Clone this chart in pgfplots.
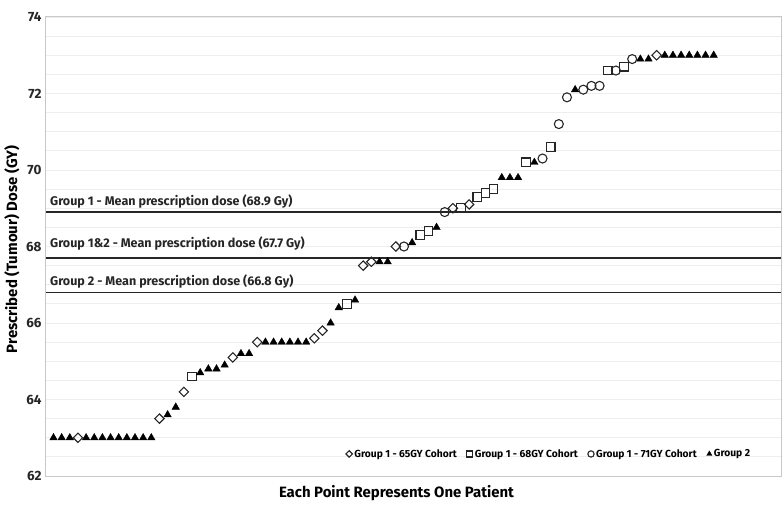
\documentclass[border=0pt]{standalone}
\usepackage{pgfplots}
\pgfplotsset{compat=1.18}
\usepackage{fontspec}
\setmainfont{Fira Sans}
\definecolor{gridc}{HTML}{EEEEEE}
\definecolor{framec}{HTML}{C8C8C8}
\begin{document}
\begin{tikzpicture}
\begin{axis}[
  name=ax,
  scale only axis,
  width=735bp, height=459bp,
  xmin=0.08, xmax=90.26,
  ymin=62, ymax=74,
  xtick=\empty,
  ytick={62,64,...,74},
  minor ytick={62.5,63,...,73.5},
  ymajorgrids, yminorgrids,
  major grid style={draw=gridc, line width=0.8bp},
  minor grid style={draw=gridc, line width=0.8bp},
  major tick length=0pt, minor tick length=0pt,
  axis line style={draw=framec, line width=1bp},
  /pgf/number format/assume math mode=true,
  yticklabel style={font=\bfseries\fontsize{13.5}{15}\selectfont, text=black!85, xshift=-1bp},
  xlabel={Each Point Represents One Patient},
  ylabel={Prescribed (Tumour) Dose (GY)},
  every axis x label/.style={at={(axis description cs:0.5,0)}, anchor=center, yshift=-17bp, xshift=-17bp, font=\bfseries\fontsize{15}{17}\selectfont},
  every axis y label/.style={at={(axis description cs:0,0.5)}, rotate=90, anchor=center, yshift=34bp, xshift=-3bp, font=\bfseries\fontsize{15}{17}\selectfont},
  legend columns=4,
  legend style={at={(rel axis cs:0.965,0.048)}, anchor=east, draw=none, fill=none,
    font=\bfseries\fontsize{10.3}{12}\selectfont,
    /tikz/every even column/.append style={column sep=8bp}},
  legend image post style={every mark/.append style={scale=0.7}},
  legend cell align=left,
]
\addplot[only marks, mark=square, mark size=3.3bp, mark options={rotate=45, draw=black!85, line width=1.1bp, fill=white}] coordinates {
(4,63) (14,63.5) (17,64.2) (23,65.1) (26,65.5) (33,65.6) (34,65.8) (39,67.5) (40,67.6) (43,68.0) (50,69.0) (52,69.1) (75,73.0)
};
\addlegendentry{Group 1 - 65GY Cohort}
\addplot[only marks, mark=square, mark size=4.3bp, mark options={draw=black!85, line width=1.1bp, fill=white}] coordinates {
(18,64.6) (37,66.5) (46,68.3) (47,68.4) (51,69.0) (53,69.3) (54,69.4) (55,69.5) (59,70.2) (62,70.6) (69,72.6) (71,72.7)
};
\addlegendentry{Group 1 - 68GY Cohort}
\addplot[only marks, mark=o, mark size=4.5bp, mark options={draw=black!85, line width=1.1bp, fill=white}] coordinates {
(44,68.0) (49,68.9) (61,70.3) (63,71.2) (64,71.9) (66,72.1) (67,72.2) (68,72.2) (70,72.6) (72,72.9)
};
\addlegendentry{Group 1 - 71GY Cohort}
\addplot[only marks, mark=triangle*, mark size=4.3bp, mark options={draw=black, fill=black}] coordinates {
(1,63) (2,63) (3,63) (5,63) (6,63) (7,63) (8,63) (9,63) (10,63) (11,63) (12,63) (13,63)
(15,63.6) (16,63.8) (19,64.7) (20,64.8) (21,64.8) (22,64.9) (24,65.2) (25,65.2)
(27,65.5) (28,65.5) (29,65.5) (30,65.5) (31,65.5) (32,65.5)
(35,66.0) (36,66.4) (38,66.6) (41,67.6) (42,67.6) (45,68.1) (48,68.5)
(56,69.8) (57,69.8) (58,69.8) (60,70.2) (65,72.1) (73,72.9) (74,72.9)
(76,73.0) (77,73.0) (78,73.0) (79,73.0) (80,73.0) (81,73.0) (82,73.0)
};
\addlegendentry{Group 2}
\addplot[draw=black!85, line width=1.2bp, forget plot] coordinates {(0.08,68.9) (90.26,68.9)};
\addplot[draw=black!85, line width=1.2bp, forget plot] coordinates {(0.08,67.7) (90.26,67.7)};
\addplot[draw=black!85, line width=1.2bp, forget plot] coordinates {(0.08,66.8) (90.26,66.8)};
\node[anchor=south west, inner sep=0pt, xshift=4bp, yshift=4bp, font=\bfseries\fontsize{12.6}{14}\selectfont, text=black!85] at (axis cs:0.08,68.9) {Group 1 - Mean prescription dose (68.9 Gy)};
\node[anchor=south west, inner sep=0pt, xshift=4bp, yshift=7bp, font=\bfseries\fontsize{12.6}{14}\selectfont, text=black!85] at (axis cs:0.08,67.7) {Group 1\&2 - Mean prescription dose (67.7 Gy)};
\node[anchor=south west, inner sep=0pt, xshift=4bp, yshift=4bp, font=\bfseries\fontsize{12.6}{14}\selectfont, text=black!85] at (axis cs:0.08,66.8) {Group 2 - Mean prescription dose (66.8 Gy)};
\end{axis}
\pgfresetboundingbox
\path[use as bounding box] ([xshift=-46bp,yshift=-34bp]ax.south west) rectangle ([xshift=1bp,yshift=17bp]ax.north east);
\end{tikzpicture}
\end{document}
